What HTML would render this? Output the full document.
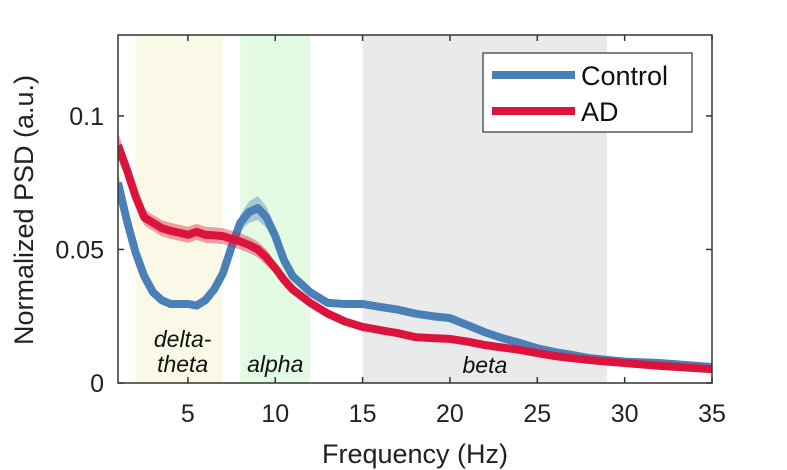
<!DOCTYPE html>
<html><head><meta charset="utf-8"><style>
body{margin:0;background:#fff;}
svg{display:block;font-family:"Liberation Sans",sans-serif;}
</style></head><body>
<svg id="chart" width="787" height="470"></svg>
<script>
const freqs=[1,1.5,2,2.5,3,3.5,4,5,5.5,6,6.5,7,7.5,8,8.5,9,9.5,10,10.5,11,12,13,14,15,16,17,18,19,20,21,22,23,24,25,26,27,28,29,30,32,35];
const controlVals=[0.075,0.061,0.049,0.040,0.034,0.031,0.0296,0.0296,0.029,0.031,0.035,0.041,0.051,0.060,0.064,0.0655,0.062,0.055,0.046,0.040,0.034,0.030,0.0296,0.0296,0.0285,0.0275,0.026,0.025,0.0243,0.0217,0.019,0.0168,0.015,0.013,0.0116,0.0105,0.0093,0.0086,0.008,0.0075,0.006];
const controlErr=[0.004,0.003,0.002,0.0015,0.001,0.001,0.001,0.001,0.001,0.001,0.001,0.0015,0.002,0.003,0.004,0.0045,0.004,0.003,0.002,0.0015,0.001,0.001,0.001,0.001,0.001,0.001,0.001,0.001,0.001,0.001,0.001,0.001,0.001,0.001,0.001,0.001,0.001,0.001,0.001,0.001,0.001];
const adVals=[0.089,0.080,0.070,0.062,0.060,0.058,0.057,0.0555,0.0566,0.0555,0.0553,0.055,0.054,0.053,0.0517,0.050,0.047,0.043,0.0386,0.035,0.030,0.026,0.023,0.021,0.0198,0.0187,0.0172,0.0168,0.0165,0.0155,0.0142,0.0133,0.0124,0.0112,0.0101,0.0093,0.0086,0.008,0.0075,0.0064,0.0052];
const adErr=[0.005,0.004,0.003,0.003,0.003,0.003,0.003,0.003,0.003,0.003,0.003,0.003,0.003,0.003,0.003,0.003,0.003,0.002,0.002,0.0015,0.001,0.001,0.001,0.001,0.001,0.001,0.001,0.001,0.001,0.001,0.001,0.001,0.001,0.001,0.001,0.001,0.001,0.001,0.001,0.001,0.001];
const xTicks=[5,10,15,20,25,30,35];
const yTicks=[0,0.05,0.1];
const yTickLabels=["0","0.05","0.1"];
const bandNames=["delta-theta","alpha","beta"];
const bandStart=[2,8,15];
const bandEnd=[7,12,29];

const L=118,R=712,T=35,B=383,X0=1,X1=35,Y0=0,Y1=0.1303;
const sx=v=>L+(v-X0)/(X1-X0)*(R-L);
const sy=v=>B-(v-Y0)/(Y1-Y0)*(B-T);
const svg=document.getElementById('chart');
const NS='http://www.w3.org/2000/svg';
function mk(tag,attrs,parent){const e=document.createElementNS(NS,tag);for(const k in attrs)e.setAttribute(k,attrs[k]);(parent||svg).appendChild(e);return e;}

const bandFill=["#faf8e6","#e3fae3","#e8eaeb"];
bandNames.forEach((n,i)=>{
  const r=mk('rect',{x:sx(bandStart[i]),y:T,width:sx(bandEnd[i])-sx(bandStart[i]),height:B-T,fill:bandFill[i]});
  
  
});
function bandLabel(lines,x,y,name){
  const t=mk('text',{x:x,y:y,'font-size':23,'font-style':'italic','text-anchor':'middle',fill:'#111'});
  
  
  lines.forEach((s,j)=>{const ts=mk('tspan',{x:x,dy:j?25:0},t);ts.textContent=s;});
}
bandLabel(["delta-","theta"],sx(4.7),347,'delta-theta-label');
bandLabel(["alpha"],sx(10),372,'alpha-label');
bandLabel(["beta"],sx(22),373,'beta-label');

const clip=mk('clipPath',{id:'c'});mk('rect',{x:L,y:T,width:R-L,height:B-T},clip);
const g=mk('g',{'clip-path':'url(#c)'});
function seriesG(vals,err,color,name){
  let up=freqs.map((f,i)=>sx(f)+','+sy(vals[i]+err[i]));
  let dn=freqs.map((f,i)=>sx(f)+','+sy(vals[i]-err[i])).reverse();
  const a=mk('polygon',{points:up.concat(dn).join(' '),fill:color,opacity:0.4},g);
  
  
  const p=mk('polyline',{points:freqs.map((f,i)=>sx(f)+','+sy(vals[i])).join(' '),fill:'none',stroke:color,'stroke-width':8,'stroke-linejoin':'round'},g);
  
  
}
seriesG(controlVals,controlErr,'#4a80b6','control');
seriesG(adVals,adErr,'#dc143c','ad');

const box=mk('rect',{x:L,y:T,width:R-L,height:B-T,fill:'none',stroke:'#333','stroke-width':1.5});


xTicks.forEach(v=>{
  mk('line',{x1:sx(v),x2:sx(v),y1:B,y2:B-6,stroke:'#333','stroke-width':1.5});
  mk('line',{x1:sx(v),x2:sx(v),y1:T,y2:T+6,stroke:'#333','stroke-width':1.5});
  const t=mk('text',{x:sx(v),y:B+39,'font-size':25,'text-anchor':'middle',fill:'#222'});
  
  
  t.textContent=v;
});
yTicks.forEach((v,i)=>{
  mk('line',{x1:L,x2:L+6,y1:sy(v),y2:sy(v),stroke:'#333','stroke-width':1.5});
  mk('line',{x1:R,x2:R-6,y1:sy(v),y2:sy(v),stroke:'#333','stroke-width':1.5});
  const t=mk('text',{x:L-14,y:sy(v)+9,'font-size':25,'text-anchor':'end',fill:'#222'});
  
  
  t.textContent=yTickLabels[i];
});
const xt=mk('text',{x:415,y:463,'font-size':27,'text-anchor':'middle',fill:'#222'});


xt.textContent='Frequency (Hz)';
const yt=mk('text',{x:0,y:0,'font-size':27,'text-anchor':'middle',fill:'#222',transform:'translate(33,210) rotate(-90)'});


yt.textContent='Normalized PSD (a.u.)';

const lg=mk('g',{});


mk('rect',{x:483,y:53,width:209,height:79,fill:'#fff',stroke:'#333','stroke-width':1.2},lg);
const names=['Control','AD'],cols=['#4a80b6','#dc143c'];
names.forEach((n,i)=>{
  const y=75+i*36;
  mk('line',{x1:492,x2:575,y1:y,y2:y,stroke:cols[i],'stroke-width':8},lg);
  const t=mk('text',{x:581,y:y+10,'font-size':27,fill:'#111'},lg);
  
  
  t.textContent=n;
});
</script>
</body></html>
